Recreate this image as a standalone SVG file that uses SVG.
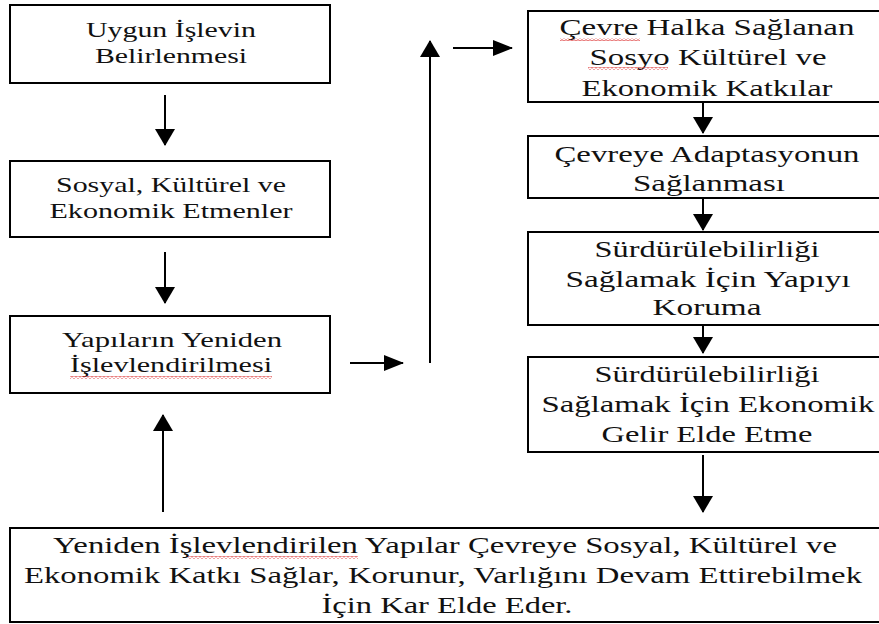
<svg xmlns="http://www.w3.org/2000/svg" width="879" height="624" viewBox="0 0 879 624" font-family="Liberation Serif, serif">
<defs>
<style>
.box{fill:#fff;stroke:#000;stroke-width:2}
.s{font-size:21px;fill:#111;text-anchor:middle}
.r{font-size:24px;fill:#111;text-anchor:middle}
.c{fill:none;stroke:#000;stroke-width:2}
</style>
<marker id="ah" viewBox="0 0 17 20" refX="16" refY="10" markerWidth="17" markerHeight="20" markerUnits="userSpaceOnUse" orient="auto">
<path d="M0,0 L17,10 L0,20 z" fill="#000"/>
</marker>
<marker id="ahs" viewBox="0 0 20 16" refX="19" refY="8" markerWidth="20" markerHeight="16" markerUnits="userSpaceOnUse" orient="auto">
<path d="M0,0 L20,8 L0,16 z" fill="#000"/>
</marker>
<pattern id="wave" width="4" height="3" patternUnits="userSpaceOnUse">
<path d="M0,2.2 L2,0.6 L4,2.2" fill="none" stroke="#d33" stroke-width="0.9"/>
</pattern>
</defs>
<rect width="879" height="624" fill="#fff"/>

<g id="connectors">
<line class="c" x1="165" y1="95" x2="165" y2="145" marker-end="url(#ah)"/>
<line class="c" x1="165" y1="252" x2="165" y2="303" marker-end="url(#ah)"/>
<line class="c" x1="163" y1="512" x2="163" y2="415" marker-end="url(#ah)"/>
<line class="c" x1="350" y1="363" x2="403" y2="363" marker-end="url(#ahs)"/>
<line class="c" x1="430" y1="363" x2="430" y2="41" marker-end="url(#ah)"/>
<line class="c" x1="453" y1="48" x2="512" y2="48" marker-end="url(#ahs)"/>
<line class="c" x1="703" y1="102" x2="703" y2="133" marker-end="url(#ah)"/>
<line class="c" x1="703" y1="198" x2="703" y2="230" marker-end="url(#ah)"/>
<line class="c" x1="703" y1="325" x2="703" y2="353" marker-end="url(#ah)"/>
<line class="c" x1="703" y1="455" x2="703" y2="512" marker-end="url(#ah)"/>
</g>

<g id="n1">
<rect class="box" x="10" y="5" width="320" height="78"/>
<text class="s" x="171" y="37" textLength="170" lengthAdjust="spacingAndGlyphs">Uygun İşlevin</text>
<text class="s" x="171" y="63" textLength="152" lengthAdjust="spacingAndGlyphs">Belirlenmesi</text>
</g>
<g id="n2">
<rect class="box" x="10" y="161" width="320" height="76"/>
<text class="s" x="171" y="192" textLength="230" lengthAdjust="spacingAndGlyphs">Sosyal, Kültürel ve</text>
<text class="s" x="171" y="218" textLength="243" lengthAdjust="spacingAndGlyphs">Ekonomik Etmenler</text>
</g>
<g id="n3">
<rect class="box" x="10" y="316" width="320" height="77"/>
<text class="s" x="172" y="347" textLength="220" lengthAdjust="spacingAndGlyphs">Yapıların Yeniden</text>
<text class="s" x="171" y="372" textLength="202" lengthAdjust="spacingAndGlyphs">İşlevlendirilmesi</text>
<rect x="70" y="376" width="202" height="3" fill="url(#wave)"/>
</g>
<g id="r1">
<rect class="box" x="528" y="11" width="356" height="91"/>
<text class="r" x="707" y="35" textLength="295" lengthAdjust="spacingAndGlyphs">Çevre Halka Sağlanan</text>
<text class="r" x="708" y="65" textLength="237" lengthAdjust="spacingAndGlyphs">Sosyo Kültürel ve</text>
<text class="r" x="707" y="96" textLength="251" lengthAdjust="spacingAndGlyphs">Ekonomik Katkılar</text>
<rect x="560" y="38" width="80" height="3" fill="url(#wave)"/>
<rect x="588" y="67" width="80" height="3" fill="url(#wave)"/>
</g>
<g id="r2">
<rect class="box" x="528" y="136" width="356" height="62"/>
<text class="r" x="707" y="162" textLength="305" lengthAdjust="spacingAndGlyphs">Çevreye Adaptasyonun</text>
<text class="r" x="709" y="191" textLength="152" lengthAdjust="spacingAndGlyphs">Sağlanması</text>
</g>
<g id="r3">
<rect class="box" x="528" y="232" width="356" height="93"/>
<text class="r" x="707" y="257" textLength="225" lengthAdjust="spacingAndGlyphs">Sürdürülebilirliği</text>
<text class="r" x="708" y="287" textLength="285" lengthAdjust="spacingAndGlyphs">Sağlamak İçin Yapıyı</text>
<text class="r" x="707" y="315" textLength="109" lengthAdjust="spacingAndGlyphs">Koruma</text>
</g>
<g id="r4">
<rect class="box" x="528" y="357" width="356" height="95"/>
<text class="r" x="707" y="382" textLength="225" lengthAdjust="spacingAndGlyphs">Sürdürülebilirliği</text>
<text class="r" x="708" y="412" textLength="333" lengthAdjust="spacingAndGlyphs">Sağlamak İçin Ekonomik</text>
<text class="r" x="707" y="442" textLength="211" lengthAdjust="spacingAndGlyphs">Gelir Elde Etme</text>
</g>
<g id="n4">
<rect class="box" x="10" y="528" width="876" height="94"/>
<text class="r" x="445" y="553" textLength="784" lengthAdjust="spacingAndGlyphs">Yeniden İşlevlendirilen Yapılar Çevreye Sosyal, Kültürel ve</text>
<text class="r" x="443" y="583" textLength="838" lengthAdjust="spacingAndGlyphs">Ekonomik Katkı Sağlar, Korunur, Varlığını Devam Ettirebilmek</text>
<text class="r" x="447" y="613" textLength="251" lengthAdjust="spacingAndGlyphs">İçin Kar Elde Eder.</text>
<rect x="188" y="556" width="170" height="3" fill="url(#wave)"/>
</g>
</svg>
